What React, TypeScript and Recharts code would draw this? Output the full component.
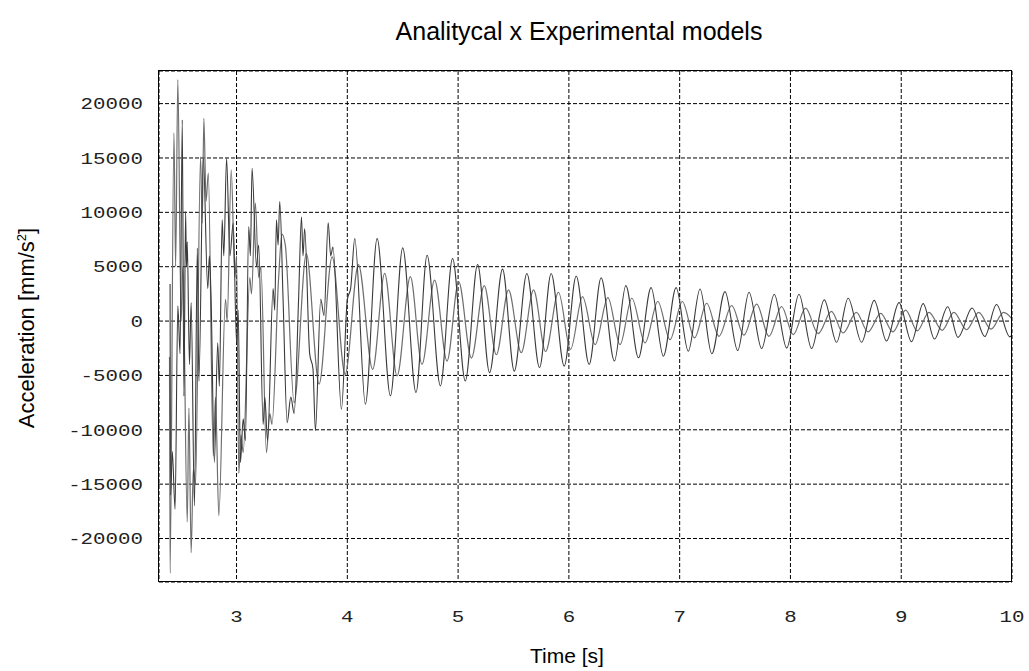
import React from 'react';
import { LineChart, Line, XAxis, YAxis, CartesianGrid } from 'recharts';

// Experimental model (darker trace)
const expTime = [
  2.4, 2.405, 2.42, 2.445, 2.47, 2.49, 2.51, 2.525, 2.54, 2.548, 2.555, 2.575, 2.59, 2.62, 2.646, 2.66,
  2.7, 2.74, 2.755, 2.77, 2.8, 2.83, 2.845, 2.87, 2.885, 2.91, 2.94, 2.97, 3.0, 3.015, 3.035, 3.06,
  3.08, 3.11, 3.125, 3.14, 3.18, 3.2, 3.24, 3.255, 3.28, 3.33, 3.345, 3.36, 3.375, 3.39, 3.42, 3.457,
  3.49, 3.52, 3.56, 3.586, 3.6, 3.615, 3.66, 3.69, 3.712, 3.76, 3.79, 3.827, 3.85, 3.87, 3.947, 4.0,
  4.03, 4.067, 4.163, 4.269, 4.389, 4.5, 4.62, 4.72, 4.84, 4.95, 5.065, 5.176, 5.284, 5.401, 5.507,
  5.621, 5.735, 5.84, 5.958, 6.066, 6.183, 6.291, 6.411, 6.514, 6.628, 6.742, 6.853, 6.968, 7.078,
  7.184, 7.29, 7.409, 7.524, 7.626, 7.74, 7.854, 7.966, 8.077, 8.191, 8.305, 8.417, 8.521, 8.642,
  8.756, 8.867, 8.98, 9.093, 9.198, 9.3, 9.42, 9.513, 9.64, 9.754, 9.86, 9.98, 10.0,
];
const expAccel = [
  3400, -16000, -12000, -17300, 1400, -3000, 18500, -6900, 10100, 5000, 7300, -4000, 1700, -17000, 6720, -5530,
  15000, 3000, 6000, 2130, -13000, -2000, -6000, 9320, 6000, 14980, 6000, 9010, -2000, 1000, -13000, -9000,
  -11000, 8700, 6000, 14060, 5030, 7000, -9500, -7000, -11000, 3000, 1000, 9320, 7000, 11000, 2000, -9340,
  -7000, -8500, 2000, 9560, 6000, 8500, -3000, -4400, -10070, 2000, 500, 9040, 6000, 6800, -8100, 2000,
  3000, 7580, -7640, 7580, -6880, 6730, -6570, 6050, -5960, 5750, -5510, 5200, -4750, 4780, -4600,
  4380, -4290, 4380, -4140, 4140, -3990, 3990, -3680, 3260, -3380, 3080, -3230, 3080, -2770,
  2950, -3010, 2710, -2710, 2650, -2530, 2470, -2470, 2470, -2530, 1950, -1950, 2100, -1950,
  1900, -1830, 1700, -1900, 1600, -1650, 1320, -1500, 1200, -1420, 1520, -1450, -1300,
];

// Analytical model (lighter trace)
const anaTime = [
  2.395, 2.4, 2.435, 2.45, 2.47, 2.5, 2.515, 2.555, 2.57, 2.59, 2.61, 2.63, 2.675, 2.69, 2.705, 2.725,
  2.745, 2.79, 2.81, 2.84, 2.9, 2.915, 2.952, 2.985, 3.0, 3.02, 3.04, 3.06, 3.12, 3.135, 3.17, 3.2,
  3.22, 3.27, 3.3, 3.32, 3.38, 3.41, 3.44, 3.52, 3.63, 3.745, 3.863, 3.98, 4.1, 4.229, 4.337, 4.449,
  4.569, 4.674, 4.788, 4.9, 5.005, 5.12, 5.236, 5.345, 5.455, 5.57, 5.681, 5.79, 5.906, 6.015, 6.123,
  6.237, 6.352, 6.462, 6.568, 6.688, 6.803, 6.913, 7.024, 7.134, 7.244, 7.355, 7.47, 7.58, 7.695,
  7.806, 7.92, 8.025, 8.137, 8.25, 8.37, 8.475, 8.595, 8.7, 8.815, 8.925, 9.04, 9.145, 9.25, 9.37,
  9.475, 9.59, 9.7, 9.81, 9.925, 10.0,
];
const anaAccel = [
  -3300, -23200, 17300, 5000, 22200, 0, 5000, -18500, -8000, -21300, -13600, -15000, 15100, 9000, 18650, 11000,
  13600, -12400, -7000, -17900, 2000, 0, 13900, 4000, 6000, -14000, -10500, -12100, 4000, 2500, 10850, 4000,
  5000, -12100, -8500, -9500, 4000, 8000, 7000, -7500, 6200, -5800, 5900, -4900, 5200, -4440, 4380, -5050,
  4080, -3990, 3770, -3680, 3620, -3400, 3260, -3100, 2860, -2900, 2860, -2800, 2650, -2600, 2250,
  -2160, 2160, -2160, 2100, -2010, 1800, -1700, 1800, -1550, 1640, -1400, 1430, -1300, 1550,
  -1400, 1340, -1250, 1190, -1150, 900, -1100, 800, -1000, 700, -1000, 1000, -900, 800, -850,
  800, -800, 800, -750, 800, 200,
];

const timeTicks = [3, 4, 5, 6, 7, 8, 9, 10];
const accelTicks = [-20000, -15000, -10000, -5000, 0, 5000, 10000, 15000, 20000];

const experimental = expTime.map((t, i) => ({ t, a: expAccel[i] }));
const analytical = anaTime.map((t, i) => ({ t, a: anaAccel[i] }));

const TICK_FONT = '"Liberation Mono", "DejaVu Sans Mono", monospace';
const LABEL_FONT = '"Liberation Sans", Arial, sans-serif';

function XTick(props: any) {
  const { x, y, payload } = props;
  return (
    <g transform={`translate(${x},${y})`}>
      <text transform="scale(1.3,1)" textAnchor="middle" dy="0.36em" fontFamily={TICK_FONT} fontSize={16} fill="#222">
        {payload.value}
      </text>
    </g>
  );
}

function YTick(props: any) {
  const { x, y, payload } = props;
  return (
    <g transform={`translate(${x},${y})`}>
      <text transform="scale(1.3,1)" textAnchor="end" dy="0.36em" fontFamily={TICK_FONT} fontSize={16} fill="#222">
        {payload.value}
      </text>
    </g>
  );
}

export default function App() {
  return (
    <div style={{ position: 'absolute', left: 0, top: 0, width: 1029, height: 671, background: '#fff' }}>
      <LineChart width={1029} height={671} margin={{ top: 71, right: 17, bottom: 49, left: 0 }}>
        <CartesianGrid stroke="#000" strokeDasharray="4 2" strokeWidth={1} />
        <XAxis
          type="number"
          dataKey="t"
          domain={[2.3, 10]}
          ticks={timeTicks}
          allowDataOverflow
          height={40}
          tickLine={false}
          tickSize={0}
          tickMargin={34}
          tick={<XTick />}
          axisLine={false}
        />
        <YAxis
          type="number"
          domain={[-24000, 23000]}
          ticks={accelTicks}
          allowDataOverflow
          width={159}
          tickLine={false}
          tickSize={0}
          tickMargin={16}
          tick={<YTick />}
          axisLine={false}
        />
        <Line
          data={analytical}
          dataKey="a"
          type="monotone"
          stroke="#6e6e6e"
          strokeWidth={1.2}
          dot={false}
          activeDot={false}
          isAnimationActive={false}
        />
        <Line
          data={experimental}
          dataKey="a"
          type="monotone"
          stroke="#3a3a3a"
          strokeWidth={1.1}
          dot={false}
          activeDot={false}
          isAnimationActive={false}
        />
      </LineChart>
      <div
        style={{
          position: 'absolute',
          left: 158,
          top: 70,
          width: 854,
          height: 512,
          boxSizing: 'border-box',
          border: '1px solid #000',
          pointerEvents: 'none',
        }}
      />
      <div
        style={{
          position: 'absolute',
          left: 579,
          top: 17,
          transform: 'translateX(-50%)',
          whiteSpace: 'nowrap',
          fontFamily: LABEL_FONT,
          fontSize: 25,
          lineHeight: '28px',
          color: '#000',
        }}
      >
        Analitycal x Experimental models
      </div>
      <div
        style={{
          position: 'absolute',
          left: 567,
          top: 644,
          transform: 'translateX(-50%)',
          whiteSpace: 'nowrap',
          fontFamily: LABEL_FONT,
          fontSize: 21,
          lineHeight: '24px',
          color: '#000',
        }}
      >
        Time [s]
      </div>
      <div
        style={{
          position: 'absolute',
          left: 27,
          top: 328,
          transform: 'translate(-50%, -50%) rotate(-90deg)',
          whiteSpace: 'nowrap',
          fontFamily: LABEL_FONT,
          fontSize: 22,
          lineHeight: '24px',
          color: '#000',
        }}
      >
        Acceleration [mm/s<sup style={{ fontSize: 13, verticalAlign: 'super', lineHeight: 0 }}>2</sup>]
      </div>
    </div>
  );
}
